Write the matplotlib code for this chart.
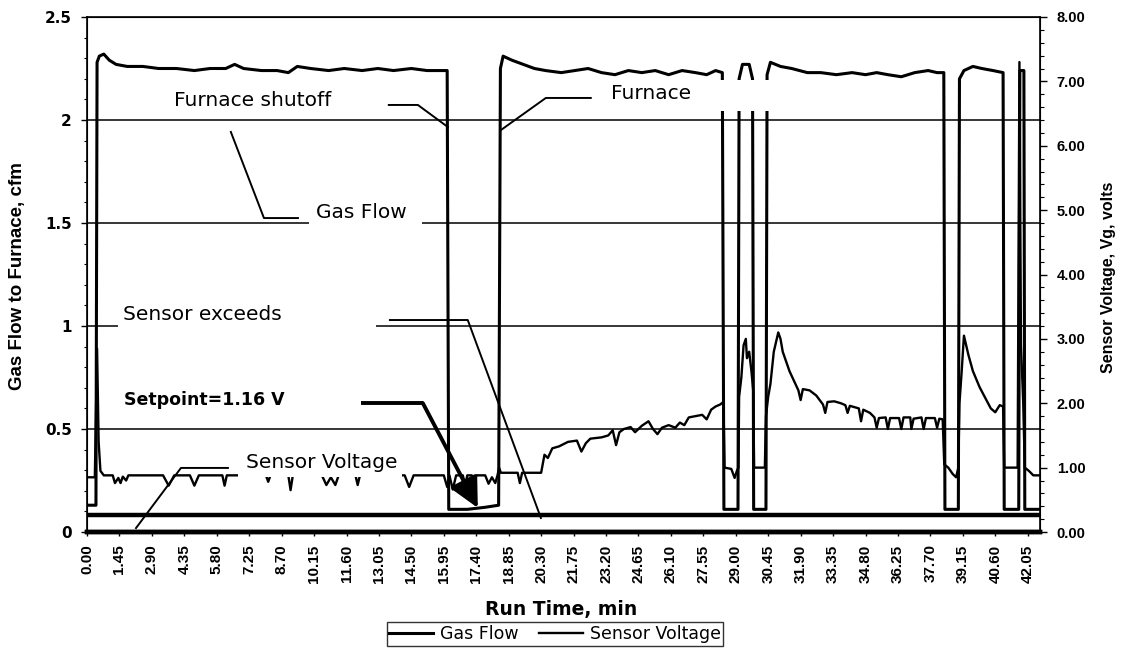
import matplotlib
matplotlib.use("Agg")
import matplotlib.pyplot as plt
from matplotlib.patches import Rectangle
from matplotlib.lines import Line2D

# ---- data ----
gas_t = [0.0, 0.4, 0.45, 0.55, 0.75, 1.0, 1.3, 1.8, 2.5, 3.2, 4.0, 4.8, 5.5, 6.2, 6.6, 7.0,
         7.8, 8.5, 9.0, 9.4, 10.0, 10.8, 11.5, 12.3, 13.0, 13.7, 14.5, 15.2, 16.1,
         16.17, 17.0, 17.8, 18.4,
         18.48, 18.6, 19.0, 19.5, 20.0, 20.5, 21.2, 21.8, 22.4, 23.0, 23.6, 24.2, 24.8,
         25.4, 26.0, 26.6, 27.2, 27.7, 28.1, 28.4,
         28.47, 29.1, 29.15, 29.3, 29.6, 29.75, 29.8, 30.35,
         30.4, 30.55, 31.0, 31.5, 32.2, 32.8, 33.5, 34.2, 34.8, 35.3, 35.8, 36.4, 37.0,
         37.6, 38.0, 38.3,
         38.35, 38.95, 39.0, 39.2, 39.6, 40.0, 40.5, 40.95,
         41.0, 41.65, 41.7, 41.88, 41.92, 42.55]
gas_cfm = [0.13, 0.13, 2.28, 2.31, 2.32, 2.29, 2.27, 2.26, 2.26, 2.25, 2.25, 2.24, 2.25, 2.25, 2.27, 2.25,
           2.24, 2.24, 2.23, 2.26, 2.25, 2.24, 2.25, 2.24, 2.25, 2.24, 2.25, 2.24, 2.24,
           0.11, 0.11, 0.12, 0.13,
           2.25, 2.31, 2.29, 2.27, 2.25, 2.24, 2.23, 2.24, 2.25, 2.23, 2.22, 2.24, 2.23,
           2.24, 2.22, 2.24, 2.23, 2.22, 2.24, 2.23,
           0.11, 0.11, 2.20, 2.27, 2.27, 2.20, 0.11, 0.11,
           2.22, 2.28, 2.26, 2.25, 2.23, 2.23, 2.22, 2.23, 2.22, 2.23, 2.22, 2.21, 2.23,
           2.24, 2.23, 2.23,
           0.11, 0.11, 2.20, 2.24, 2.26, 2.25, 2.24, 2.23,
           0.11, 0.11, 2.24, 2.24, 0.11, 0.11]

sv_t = [0.0, 0.35, 0.45, 0.52, 0.6, 0.75, 1.15, 1.25, 1.4, 1.5, 1.6, 1.75, 1.85,
        3.4, 3.65, 3.9, 4.6, 4.8, 5.0, 6.05, 6.15, 6.25, 8.0, 8.1, 8.2, 9.0, 9.1, 9.2,
        10.5, 10.7, 10.9, 11.1, 11.25, 12.0, 12.1, 12.2, 14.2, 14.4, 14.6,
        15.95, 16.1, 16.2, 16.35, 16.5, 16.8, 16.9, 17.0, 17.2, 17.3, 17.4,
        17.8, 17.95, 18.1, 18.25, 18.35, 18.42, 18.5, 19.25, 19.35, 19.45,
        20.3, 20.45, 20.6, 20.8, 21.1, 21.5, 21.9, 22.1, 22.3, 22.5, 23.0, 23.3, 23.5,
        23.65, 23.8, 24.0, 24.3, 24.5, 24.8, 25.1, 25.3, 25.5, 25.7, 26.0, 26.3, 26.5,
        26.7, 26.9, 27.2, 27.5, 27.7, 27.9, 28.1, 28.3, 28.45,
        28.5, 28.8, 28.95, 29.05, 29.12, 29.15, 29.25, 29.35, 29.45, 29.5, 29.6, 29.7,
        29.78, 29.82, 30.3, 30.35, 30.45, 30.55, 30.7, 30.9, 31.0, 31.1, 31.4, 31.6,
        31.8, 31.9, 32.0, 32.3, 32.6, 32.9, 33.0, 33.1, 33.4, 33.7, 33.9, 34.0, 34.1,
        34.5, 34.6, 34.7, 35.0, 35.2, 35.3, 35.4, 35.7, 35.8, 35.9, 36.3, 36.4, 36.5,
        36.8, 36.85, 36.95, 37.3, 37.4, 37.5, 37.9, 38.0, 38.1, 38.25,
        38.32, 38.5, 38.7, 38.85, 38.95, 39.0, 39.1, 39.2, 39.3, 39.4, 39.6, 39.9,
        40.2, 40.4, 40.6, 40.8, 40.95,
        41.0, 41.6, 41.68, 41.75, 41.85, 41.92, 42.1, 42.3, 42.55]
sv_volts = [0.85, 0.85, 2.85, 1.4, 0.95, 0.88, 0.88, 0.76, 0.84, 0.76, 0.86, 0.80, 0.88,
            0.88, 0.72, 0.88, 0.88, 0.72, 0.88, 0.88, 0.72, 0.88, 0.88, 0.78, 0.88, 0.88, 0.65, 0.88,
            0.88, 0.73, 0.85, 0.73, 0.88, 0.88, 0.73, 0.88, 0.88, 0.70, 0.88,
            0.88, 0.70, 0.88, 0.66, 0.88, 0.88, 0.72, 0.88, 0.88, 0.70, 0.88,
            0.88, 0.75, 0.85, 0.76, 0.88, 1.00, 0.92, 0.92, 0.76, 0.92,
            0.92, 1.20, 1.15, 1.30, 1.33, 1.40, 1.42, 1.25, 1.38, 1.45, 1.47, 1.50, 1.58,
            1.35, 1.55, 1.60, 1.63, 1.55, 1.65, 1.72, 1.60, 1.52, 1.62, 1.66, 1.62, 1.70,
            1.66, 1.78, 1.80, 1.82, 1.75, 1.90, 1.95, 1.98, 2.02,
            1.00, 0.98, 0.84, 0.95, 1.00, 2.10, 2.40, 2.90, 3.00, 2.70, 2.80, 2.50,
            2.20, 1.00, 1.00, 1.80, 2.10, 2.30, 2.80, 3.10, 3.00, 2.80, 2.50, 2.35,
            2.20, 2.05, 2.22, 2.20, 2.12, 1.98, 1.85, 2.02, 2.03, 2.00, 1.97, 1.85, 1.96,
            1.92, 1.72, 1.90, 1.85, 1.78, 1.62, 1.77, 1.78, 1.60, 1.77, 1.77, 1.60, 1.78,
            1.78, 1.60, 1.76, 1.78, 1.60, 1.77, 1.77, 1.62, 1.76, 1.75,
            1.05, 1.00, 0.90, 0.85, 1.00, 2.00, 2.50, 3.05, 2.90, 2.75, 2.50, 2.25,
            2.05, 1.92, 1.86, 1.97, 1.95,
            1.00, 1.00, 7.30, 2.90, 2.00, 1.00, 0.95, 0.88, 0.88]

ref_line_cfm = 0.083

x_ticks = [0.00, 1.45, 2.90, 4.35, 5.80, 7.25, 8.70, 10.15, 11.60, 13.05, 14.50, 15.95,
           17.40, 18.85, 20.30, 21.75, 23.20, 24.65, 26.10, 27.55, 29.00, 30.45, 31.90,
           33.35, 34.80, 36.25, 37.70, 39.15, 40.60, 42.05]
left_ticks = [0, 0.5, 1, 1.5, 2, 2.5]
left_labels = ["0", "0.5", "1", "1.5", "2", "2.5"]
right_ticks = [0, 1, 2, 3, 4, 5, 6, 7, 8]

fig = plt.figure(figsize=(11.23, 6.48), dpi=100)
ax = fig.add_axes([87 / 1123, 116 / 648, 953 / 1123, 515 / 648])
ax2 = ax.twinx()

ax.set_xlim(0, 42.6)
ax.set_ylim(0, 2.5)
ax2.set_ylim(0, 8)

for g in [0.5, 1, 1.5, 2]:
    ax.axhline(g, color="black", lw=1.1, zorder=1)
ax.axhline(ref_line_cfm, color="black", lw=3.2, zorder=2)

ax.plot(gas_t, gas_cfm, color="black", lw=2.2, zorder=3)
ax2.plot(sv_t, sv_volts, color="black", lw=1.7, zorder=3)

ax.set_xticks(x_ticks)
ax.set_xticklabels([f"{v:.2f}" for v in x_ticks], rotation=90,
                   fontfamily="Liberation Sans", fontweight="bold", fontsize=11)
ax.set_yticks(left_ticks)
ax.set_yticklabels(left_labels, fontweight="bold", fontsize=11)
ax.set_yticks([i / 10 for i in range(26)], minor=True)
ax2.set_yticks(right_ticks)
ax2.set_yticklabels([f"{v:.2f}" for v in right_ticks],
                    fontfamily="Liberation Sans", fontweight="bold", fontsize=10.5)
ax2.set_yticks([i / 5 for i in range(41)], minor=True)

ax.tick_params(axis="x", length=3, width=1, pad=6)
ax.tick_params(axis="y", which="major", length=4, width=1, pad=7)
ax.tick_params(axis="y", which="minor", length=2, width=0.8)
ax2.tick_params(axis="y", which="major", length=5, width=1, pad=7)
ax2.tick_params(axis="y", which="minor", length=3, width=0.8)

for sp in ax.spines.values():
    sp.set_linewidth(1.2)
ax.spines["bottom"].set_linewidth(3.2)
ax2.spines["bottom"].set_linewidth(3.2)

fig.text(18 / 1123, 1 - 276 / 648, "Gas Flow to Furnace, cfm", rotation=90,
         ha="center", va="center", fontfamily="Liberation Sans", fontweight="bold", fontsize=13.5)
fig.text(1108 / 1123, 1 - 277 / 648, "Sensor Voltage, Vg, volts", rotation=90,
         ha="center", va="center", fontfamily="Liberation Sans", fontweight="bold", fontsize=11.5)
fig.text(561 / 1123, 1 - 609 / 648, "Run Time, min", ha="center", va="center",
         fontweight="bold", fontsize=13.5)

# ---- annotations (drawn on the top axes, left-axis data coords) ----
tr = ax.transData
white_boxes = [(22.88, 2.044, 7.68, 0.150),   # Furnace
               (9.92, 1.466, 5.05, 0.146),    # Gas Flow
               (1.39, 0.966, 11.52, 0.151),   # Sensor exceeds
               (6.75, 0.267, 7.33, 0.131)]    # Sensor Voltage
for x0, y0, w, h in white_boxes:
    ax2.add_patch(Rectangle((x0, y0), w, h, transform=tr, facecolor="white",
                            edgecolor="none", zorder=5))

leaders = [([13.49, 14.79, 16.13], [2.073, 2.073, 1.966]),
           ([6.43, 7.91, 9.43], [1.942, 1.524, 1.524]),
           ([22.52, 20.51, 18.50], [2.107, 2.107, 1.951]),
           ([13.54, 17.02, 20.29], [1.029, 1.029, 0.068]),
           ([6.30, 4.20, 2.19], [0.311, 0.311, 0.019])]
for lx, ly in leaders:
    ax2.plot(lx, ly, color="black", lw=1.4, transform=tr, zorder=6)

ax2.plot([12.24, 15.01], [0.626, 0.626], color="black", lw=2.8, transform=tr,
         zorder=6, solid_capstyle="butt")
ax2.annotate("", xy=(17.47, 0.117), xytext=(15.01, 0.626), xycoords=tr, textcoords=tr,
             arrowprops=dict(arrowstyle="-|>,head_length=0.9,head_width=0.45", color="black",
                             lw=2.8, mutation_scale=20, shrinkA=0, shrinkB=0), zorder=6)

labels = [(3.89, 2.097, "Furnace shutoff", "normal", 14.5),
          (23.41, 2.131, "Furnace", "normal", 14.5),
          (10.23, 1.549, "Gas Flow", "normal", 14.5),
          (1.61, 1.058, "Sensor exceeds", "normal", 14.5),
          (1.65, 0.641, "Setpoint=1.16 V", "bold", 12.5),
          (7.10, 0.335, "Sensor Voltage", "normal", 14.5)]
for lx, ly, s, w, fs in labels:
    ax2.text(lx, ly, s, transform=tr, ha="left", va="center", fontweight=w,
             fontsize=fs, zorder=7)

handles = [Line2D([], [], color="black", lw=2.2), Line2D([], [], color="black", lw=1.7)]
leg = fig.legend(handles, ["Gas Flow", "Sensor Voltage"], loc="center",
                 bbox_to_anchor=(555 / 1123, 1 - 634 / 648), ncol=2, fontsize=12.5,
                 frameon=True, fancybox=False, edgecolor="black", handlelength=2.5,
                 handletextpad=0.4, columnspacing=1.2, borderpad=0.15)
leg.get_frame().set_linewidth(1.0)

fig.savefig("out.png", dpi=100)
